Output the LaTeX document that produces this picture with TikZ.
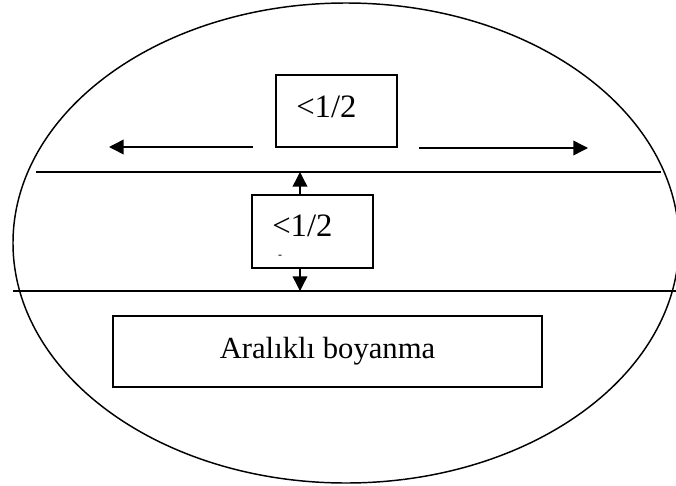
\documentclass[tikz,border=0pt]{standalone}
\usepackage{fontspec}
\setmainfont{Liberation Serif}
\usetikzlibrary{arrows.meta}
\begin{document}
\begin{tikzpicture}[x=0.75pt,y=-0.75pt,
  rule/.style={line width=1.1pt},
  boxed/.style={draw, line width=1.1pt, inner sep=0pt},
  arr/.style={line width=1.1pt, -{Triangle[length=11pt,width=11pt]}},
  lbl/.style={font=\fontsize{24.5}{28}\selectfont, inner sep=0pt},
  big/.style={font=\fontsize{23}{27}\selectfont, inner sep=0pt}]
\useasboundingbox (0,0) rectangle (676,486);
\draw[line width=1.1pt] (346,243) ellipse [x radius=333, y radius=240];
% horizontal rules
\coordinate (r1a) at (36,172);
\coordinate (r1b) at (661,172);
\coordinate (r2a) at (13,291);
\coordinate (r2b) at (676,291);
\draw[rule] (r1a) -- (r1b);
\draw[line width=1.4pt] (r2a) -- (r2b);
% boxes
\node[boxed, minimum width=90.75pt, minimum height=54pt] (b1) at (336.5,111) {};
\node[lbl, anchor=base west] (t1) at (296,117) {<1/2};
\node[boxed, minimum width=90.75pt, minimum height=54.75pt] (b2) at (312.5,231.5) {};
\node[lbl, anchor=base west] (t2) at (272,236) {<1/2};
\node[font=\fontsize{9}{10}\selectfont, inner sep=0pt] (t3) at (280,257) {-};
\node[boxed, big, minimum width=321.75pt, minimum height=53.25pt] (b3) at (327.5,351.5) {Aralıklı boyanma};
% arrows
\coordinate (al0) at (253,147);
\coordinate (al1) at (109,147);
\coordinate (ar0) at (419,148);
\coordinate (ar1) at (588,148);
\draw[arr] (al0) -- (al1);
\draw[arr] (ar0) -- (ar1);
\coordinate (up) at (300,172);
\coordinate (dn) at (300,291);
\draw[arr] (b2.north -| up) -- (up);
\draw[arr] (b2.south -| dn) -- (dn);
\end{tikzpicture}
\end{document}
